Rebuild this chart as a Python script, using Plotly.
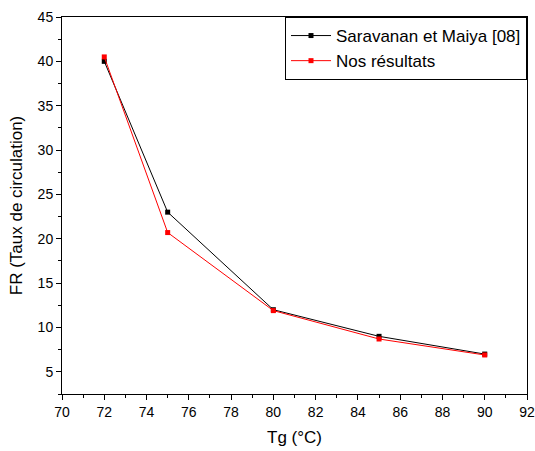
import plotly.graph_objects as go

tg = [72, 75, 80, 85, 90]
saravanan = [40.0, 23.0, 12.0, 9.0, 7.0]
nos = [40.5, 20.7, 11.9, 8.7, 6.9]

fig = go.Figure()
fig.add_trace(go.Scatter(x=tg, y=saravanan, mode="lines+markers", name="Saravanan et Maiya [08]",
                         line=dict(color="black", width=1),
                         marker=dict(symbol="square", size=5, color="black")))
fig.add_trace(go.Scatter(x=tg, y=nos, mode="lines+markers", name="Nos résultats",
                         line=dict(color="red", width=1),
                         marker=dict(symbol="square", size=5, color="red")))

font = "Liberation Sans, Arial, sans-serif"
fig.update_layout(
    width=535, height=451,
    margin=dict(l=62, r=8, t=17, b=57),
    paper_bgcolor="white", plot_bgcolor="white",
    font=dict(family=font, size=14, color="black"),
    showlegend=True,
    legend=dict(x=1, xanchor="right", y=1, yanchor="top",
                bordercolor="black", borderwidth=1, bgcolor="white",
                font=dict(size=17, family=font), tracegroupgap=0,
                itemwidth=40),
)
fig.update_xaxes(range=[70, 92], dtick=2, tick0=70, showgrid=False, zeroline=False,
                 showline=True, linecolor="black", linewidth=1, mirror=True,
                 ticks="outside", ticklen=5, tickcolor="black", automargin=False,
                 minor=dict(dtick=1, ticks="outside", ticklen=3, tickcolor="black"),
                 title=dict(text="Tg (°C)", font=dict(size=17), standoff=12),
                 tickfont=dict(size=14))
fig.update_yaxes(range=[2.5, 45], dtick=5, tick0=0, showgrid=False, zeroline=False,
                 showline=True, linecolor="black", linewidth=1, mirror=True,
                 ticks="outside", ticklen=5, tickcolor="black", automargin=False,
                 minor=dict(dtick=2.5, ticks="outside", ticklen=3, tickcolor="black"),
                 title=dict(text="FR (Taux de circulation)", font=dict(size=17), standoff=10),
                 tickfont=dict(size=14))

fig.write_html("out.html")
